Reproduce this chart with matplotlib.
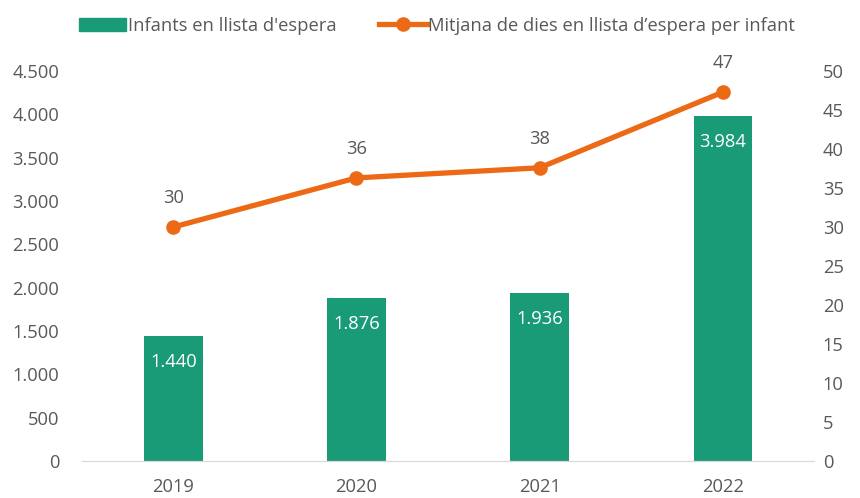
import matplotlib.pyplot as plt
from matplotlib.lines import Line2D
from matplotlib.patches import Patch
from matplotlib.ticker import FuncFormatter

plt.rcParams['font.family'] = ['Open Sans', 'DejaVu Sans']

years = ['2019', '2020', '2021', '2022']
infants = [1440, 1876, 1936, 3984]
dies = [30.0, 36.3, 37.6, 47.3]
dies_labels = ['30', '36', '38', '47']

green = '#1a9b77'
orange = '#ec6a15'
grey = '#595959'
fs = 13.2


def thousands(v, pos):
    return f'{int(v):,}'.replace(',', '.')


fig = plt.figure(figsize=(8.6, 4.98), dpi=100)
ax = fig.add_axes([0.095, 0.0743, 0.852, 0.783])
ax2 = ax.twinx()

x = range(len(years))
bars = ax.bar(x, infants, width=0.32, color=green, zorder=2)
for xi, v in zip(x, infants):
    ax.text(xi, v - 300, thousands(v, None), ha='center', va='center',
            color='white', fontsize=fs)

ax2.plot(x, dies, color=orange, lw=3.8, marker='o', markersize=9.5, zorder=3)
for xi, v, lab in zip(x, dies, dies_labels):
    ax2.text(xi, v + 3.7, lab, ha='center', va='center', color=grey, fontsize=fs)

ax.set_xlim(-0.5, 3.5)
ax.set_ylim(0, 4500)
ax.set_yticks(range(0, 4501, 500))
ax.yaxis.set_major_formatter(FuncFormatter(thousands))
ax2.set_ylim(0, 50)
ax2.set_yticks(range(0, 51, 5))
ax.set_xticks(list(x))
ax.set_xticklabels(years)

for a in (ax, ax2):
    for s in ('top', 'left', 'right'):
        a.spines[s].set_visible(False)
    a.spines['bottom'].set_color('#d9d9d9')
    a.tick_params(length=0, colors=grey, labelsize=fs)
ax.tick_params(axis='y', pad=16)
ax2.tick_params(axis='y', pad=6)
ax.tick_params(axis='x', pad=12)

handles = [Patch(color=green),
           Line2D([0], [0], color=orange, lw=3.8, marker='o', markersize=9.5)]
fig.legend(handles, ["Infants en llista d'espera", 'Mitjana de dies en llista d\u2019espera per infant'],
           loc='upper center', bbox_to_anchor=(0.508, 1.0), ncol=2, frameon=False,
           fontsize=fs, labelcolor=grey, handlelength=2.6, handletextpad=0.1,
           columnspacing=2.3)

fig.savefig('out.png', dpi=100)
